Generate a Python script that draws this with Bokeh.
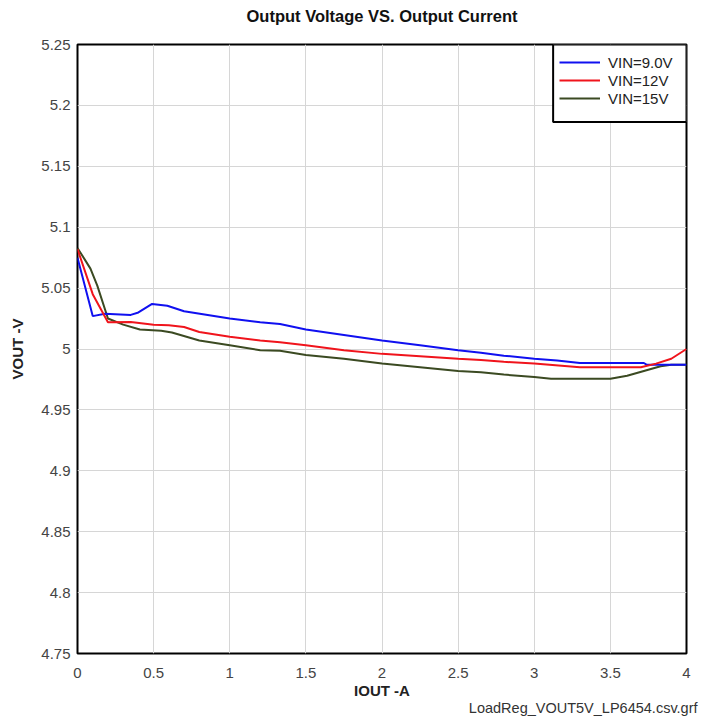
from bokeh.plotting import figure
from bokeh.models import (Range1d, FixedTicker, Legend, LegendItem,
                          BoxAnnotation, Title, LinearAxis)
from bokeh.embed import file_html
from bokeh.resources import INLINE

# Load regulation measurements: output voltage vs. output current
iout_9v = [0, 0.1, 0.18, 0.35, 0.4, 0.49, 0.59, 0.7, 1.0, 1.2, 1.33, 1.5,
           1.75, 2.0, 2.25, 2.5, 2.65, 2.8, 3.0, 3.15, 3.3, 3.5, 3.72, 3.74, 4.0]
vout_9v = [5.075, 5.027, 5.029, 5.028, 5.030, 5.037, 5.0355, 5.031, 5.025,
           5.022, 5.0205, 5.016, 5.0115, 5.007, 5.003, 4.999, 4.997, 4.9945,
           4.992, 4.9905, 4.9885, 4.9885, 4.9885, 4.987, 4.987]

iout_12v = [0, 0.1, 0.2, 0.35, 0.5, 0.6, 0.7, 0.8, 1.0, 1.2, 1.33, 1.5, 1.75,
            2.0, 2.25, 2.5, 2.65, 2.8, 3.0, 3.3, 3.5, 3.7, 3.8, 3.9, 4.0]
vout_12v = [5.082, 5.045, 5.022, 5.0222, 5.020, 5.0195, 5.018, 5.014, 5.010,
            5.007, 5.0055, 5.003, 4.999, 4.996, 4.994, 4.992, 4.991, 4.9895,
            4.988, 4.985, 4.985, 4.985, 4.988, 4.992, 5.000]

iout_15v = [0, 0.085, 0.13, 0.2, 0.3, 0.41, 0.55, 0.62, 0.8, 1.0, 1.2, 1.33,
            1.5, 1.75, 2.0, 2.25, 2.5, 2.65, 2.8, 3.0, 3.11, 3.5, 3.61, 3.72,
            3.83, 3.9, 4.0]
vout_15v = [5.083, 5.066, 5.052, 5.025, 5.020, 5.016, 5.015, 5.0135, 5.007,
            5.003, 4.999, 4.9985, 4.995, 4.992, 4.988, 4.985, 4.982, 4.981,
            4.979, 4.977, 4.9755, 4.9755, 4.978, 4.982, 4.9858, 4.987, 4.987]

series_names = ["VIN=9.0V", "VIN=12V", "VIN=15V"]
series_colors = ["#1010f0", "#f0141c", "#3b4a22"]

x_ticks = [0, 0.5, 1, 1.5, 2, 2.5, 3, 3.5, 4]
x_tick_labels = ["0", "0.5", "1", "1.5", "2", "2.5", "3", "3.5", "4"]
y_ticks = [4.75, 4.8, 4.85, 4.9, 4.95, 5.0, 5.05, 5.1, 5.15, 5.2, 5.25]
y_tick_labels = ["4.75", "4.8", "4.85", "4.9", "4.95", "5", "5.05", "5.1",
                 "5.15", "5.2", "5.25"]

chart_title = "Output Voltage VS. Output Current"
source_note = "LoadReg_VOUT5V_LP6454.csv.grf"

FONT = "Liberation Sans"

p = figure(width=715, height=719, output_backend="svg", toolbar_location=None,
           x_range=Range1d(0, 4), y_range=Range1d(4.75, 5.25),
           min_border_left=77, min_border_right=29,
           min_border_top=44, min_border_bottom=66)
p.background_fill_color = "white"
p.border_fill_color = "white"
p.outline_line_color = "black"
p.outline_line_width = 2

# Axes
for ax in (p.xaxis[0], p.yaxis[0]):
    ax.axis_line_color = None
    ax.major_tick_line_color = None
    ax.minor_tick_line_color = None
    ax.major_tick_out = 0
    ax.major_tick_in = 0
    ax.major_label_text_font = FONT
    ax.major_label_text_font_size = "15px"
    ax.major_label_text_color = "#444444"
    ax.axis_label_text_font = FONT
    ax.axis_label_text_font_size = "15px"
    ax.axis_label_text_font_style = "bold"
    ax.axis_label_text_color = "#222222"

p.xaxis.ticker = FixedTicker(ticks=x_ticks)
p.xaxis.major_label_overrides = dict(zip(x_ticks, x_tick_labels))
p.xaxis.axis_label = "IOUT -A"
p.xaxis.major_label_standoff = 14
p.xaxis.axis_label_standoff = 1

p.yaxis.ticker = FixedTicker(ticks=y_ticks)
p.yaxis.major_label_overrides = dict(zip(y_ticks, y_tick_labels))
p.yaxis.axis_label = "VOUT -V"
p.yaxis.major_label_standoff = 7
p.yaxis.axis_label_standoff = 12

p.xgrid.ticker = FixedTicker(ticks=x_ticks)
p.ygrid.ticker = FixedTicker(ticks=y_ticks)
for g in (p.xgrid[0], p.ygrid[0]):
    g.grid_line_color = "#d6d6d6"
    g.grid_line_width = 1

# Chart title carried by a tick-less axis above the frame
title_axis = LinearAxis(ticker=FixedTicker(ticks=[]), axis_label=chart_title,
                        axis_line_color=None, major_tick_out=0,
                        major_tick_in=0, minor_tick_out=0, minor_tick_in=0,
                        major_label_standoff=0, axis_label_standoff=20,
                        axis_label_text_font=FONT,
                        axis_label_text_font_size="16.5px",
                        axis_label_text_font_style="bold",
                        axis_label_text_color="#111111")
p.add_layout(title_axis, "above")

# Curves
renderers = []
for xs, ys, color in ((iout_15v, vout_15v, series_colors[2]),
                      (iout_9v, vout_9v, series_colors[0]),
                      (iout_12v, vout_12v, series_colors[1])):
    renderers.append(p.line(xs, ys, line_color=color, line_width=2))
r15, r9, r12 = renderers

# Legend frame
legend_box = BoxAnnotation(left=3.124, right=4.0, top=5.25, bottom=5.1863,
                           fill_color="white", fill_alpha=1.0,
                           line_color="black", line_alpha=1.0, line_width=2)
p.add_layout(legend_box)

legend = Legend(items=[LegendItem(label=series_names[0], renderers=[r9]),
                       LegendItem(label=series_names[1], renderers=[r12]),
                       LegendItem(label=series_names[2], renderers=[r15])],
                location=(482, 546), margin=0, padding=8, spacing=0,
                glyph_width=41, glyph_height=18, label_height=18,
                label_standoff=8, border_line_color=None,
                background_fill_alpha=0.0,
                label_text_font=FONT, label_text_font_size="15px",
                label_text_color="#222222")
p.add_layout(legend)

# Source file note under the axis
note = Title(text=source_note, align="right", offset=-11,
             text_font=FONT, text_font_size="14.5px", text_font_style="normal",
             text_color="#333333", standoff=-8)
p.add_layout(note, "below")

open("out.html", "w").write(file_html(p, INLINE))
